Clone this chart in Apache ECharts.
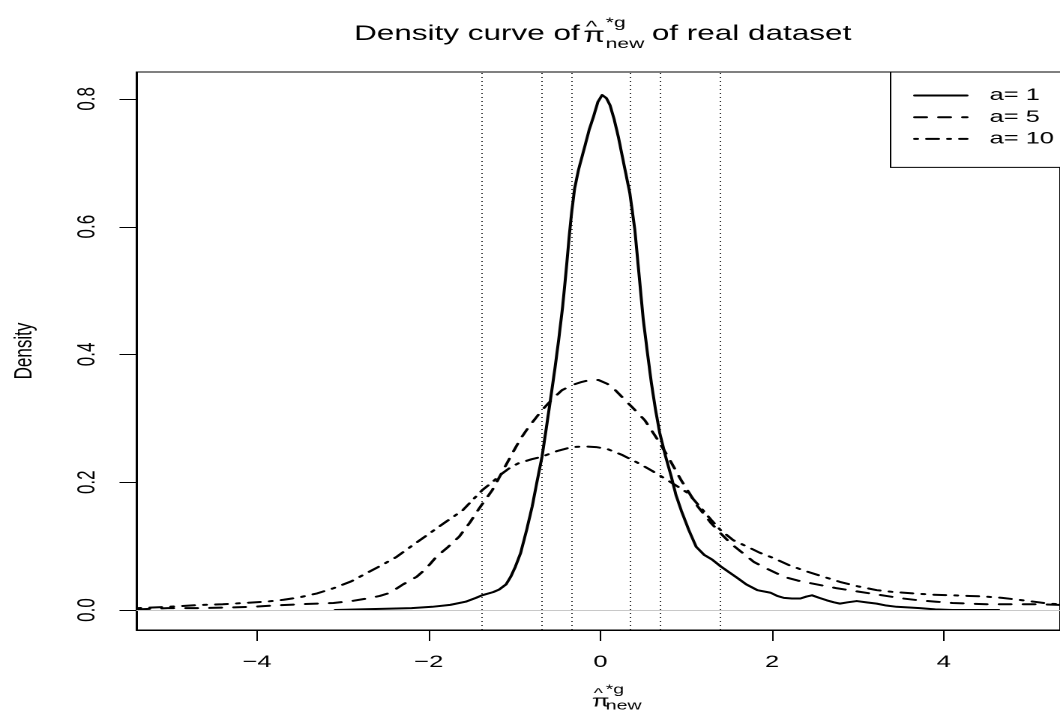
<!DOCTYPE html>
<html>
<head>
<meta charset="utf-8">
<title>Density curve</title>
<script src="https://cdn.jsdelivr.net/npm/echarts@6/dist/echarts.min.js"></script>
<style>
	html, body { margin: 0; padding: 0; background: #fff; overflow: hidden; }
	/* the reference plot is stretched sideways, so the whole chart is drawn narrow and scaled */
	#densityChart { width: 707px; height: 713px; transform: scaleX(1.4993); transform-origin: 0 0; }
</style>
</head>
<body>
<div id="densityChart"></div>
<script>
//a = 1
var a1X = [-3.09, -2.8, -2.5, -2.2, -1.96, -1.75, -1.57, -1.45, -1.38, -1.25, -1.18, -1.10, -1.045, -0.99, -0.93, -0.86, -0.795, -0.74, -0.68, -0.63, -0.582, -0.53, -0.486, -0.44, -0.40, -0.36, -0.332, -0.30, -0.255, -0.177, -0.13, -0.081, -0.03, 0.02, 0.07, 0.112, 0.16, 0.208, 0.27, 0.343, 0.401, 0.45, 0.498, 0.55, 0.594, 0.64, 0.691, 0.76, 0.825, 0.88, 0.941, 1.03, 1.115, 1.211, 1.30, 1.404, 1.50, 1.597, 1.70, 1.829, 1.983, 2.06, 2.137, 2.23, 2.33, 2.40, 2.465, 2.55, 2.64, 2.72, 2.79, 2.88, 2.986, 3.10, 3.218, 3.33, 3.45, 3.6, 3.72, 3.9, 4.1, 4.4, 4.64];
var a1Y = [0.000, 0.001, 0.002, 0.003, 0.005, 0.008, 0.013, 0.019, 0.023, 0.028, 0.032, 0.040, 0.052, 0.068, 0.089, 0.125, 0.162, 0.200, 0.240, 0.285, 0.329, 0.378, 0.423, 0.475, 0.530, 0.590, 0.626, 0.660, 0.689, 0.728, 0.752, 0.772, 0.795, 0.806, 0.801, 0.790, 0.768, 0.741, 0.700, 0.652, 0.595, 0.525, 0.456, 0.400, 0.355, 0.315, 0.277, 0.240, 0.209, 0.180, 0.156, 0.125, 0.099, 0.086, 0.079, 0.068, 0.059, 0.050, 0.040, 0.031, 0.027, 0.022, 0.019, 0.018, 0.018, 0.021, 0.023, 0.019, 0.015, 0.012, 0.010, 0.012, 0.014, 0.012, 0.010, 0.007, 0.005, 0.004, 0.003, 0.001, 0.000, 0.000, 0.000];
//a = 5
var a5X = [-5.39, -5.04, -4.65, -4.3, -4.07, -3.8, -3.495, -3.3, -3.11, -2.9, -2.72, -2.57, -2.45, -2.3, -2.14, -2.03, -1.913, -1.78, -1.644, -1.52, -1.412, -1.258, -1.14, -1.027, -0.93, -0.833, -0.75, -0.68, -0.56, -0.448, -0.33, -0.216, -0.12, -0.023, 0.08, 0.16, 0.247, 0.38, 0.517, 0.65, 0.787, 0.941, 1.134, 1.289, 1.40, 1.52, 1.65, 1.79, 1.95, 2.137, 2.30, 2.446, 2.6, 2.755, 2.95, 3.14, 3.33, 3.527, 3.72, 3.912, 4.1, 4.30, 4.5, 4.68, 4.9, 5.1, 5.35];
var a5Y = [0.001, 0.003, 0.003, 0.004, 0.005, 0.007, 0.009, 0.010, 0.011, 0.014, 0.018, 0.022, 0.027, 0.040, 0.052, 0.065, 0.083, 0.098, 0.115, 0.137, 0.159, 0.188, 0.217, 0.245, 0.268, 0.287, 0.301, 0.313, 0.330, 0.344, 0.352, 0.357, 0.360, 0.360, 0.354, 0.346, 0.334, 0.316, 0.297, 0.270, 0.240, 0.203, 0.162, 0.136, 0.120, 0.104, 0.090, 0.075, 0.064, 0.052, 0.046, 0.042, 0.038, 0.034, 0.030, 0.026, 0.022, 0.018, 0.015, 0.013, 0.011, 0.010, 0.009, 0.009, 0.009, 0.009, 0.008];
//a = 10
var a10X = [-5.39, -5.04, -4.65, -4.4, -4.15, -3.9, -3.69, -3.5, -3.30, -3.11, -2.9, -2.72, -2.55, -2.376, -2.2, -1.99, -1.8, -1.605, -1.49, -1.373, -1.26, -1.142, -1.05, -0.949, -0.80, -0.68, -0.50, -0.332, -0.177, -0.05, 0.08, 0.247, 0.44, 0.60, 0.71, 0.82, 0.903, 1.02, 1.15, 1.29, 1.40, 1.55, 1.713, 1.85, 2.02, 2.2, 2.41, 2.6, 2.79, 3.0, 3.22, 3.43, 3.64, 3.87, 4.1, 4.3, 4.49, 4.68, 4.87, 5.05, 5.22, 5.35];
var a10Y = [0.003, 0.005, 0.008, 0.009, 0.011, 0.013, 0.016, 0.020, 0.026, 0.034, 0.045, 0.058, 0.070, 0.083, 0.100, 0.120, 0.138, 0.156, 0.172, 0.188, 0.200, 0.214, 0.223, 0.230, 0.236, 0.240, 0.249, 0.255, 0.256, 0.255, 0.252, 0.243, 0.230, 0.218, 0.209, 0.200, 0.193, 0.183, 0.163, 0.141, 0.125, 0.109, 0.099, 0.090, 0.081, 0.070, 0.060, 0.052, 0.044, 0.037, 0.031, 0.028, 0.026, 0.024, 0.023, 0.022, 0.021, 0.019, 0.016, 0.013, 0.010, 0.009];
//dotted reference lines
var vLines = [-1.386, -0.693, -0.336, 0.336, 0.693, 1.386];
//ticks
var xTicks = [-4, -2, 0, 2, 4];
var yTicks = [0, 0.2, 0.4, 0.6, 0.8];
var seriesNames = ['a= 1', 'a= 5', 'a= 10'];

var xMin = -5.405, xMax = 5.354;
var yMin = -0.0313, yMax = 0.842;

function pairs(xs, ys) {
	var out = [];
	for (var i = 0; i < xs.length; i++) {
		out.push([xs[i], ys[i]]);
	}
	return out;
}

var font = '"Liberation Sans", Arial, Helvetica, sans-serif';
var lineBase = { color: '#000', width: 2, cap: 'round', join: 'round' };

var markData = vLines.map(function (v) {
	return { xAxis: v, lineStyle: { color: '#000', width: 0.8, type: [1, 3], cap: 'butt' } };
});
markData.push({ yAxis: 0, lineStyle: { color: '#c8c8c8', width: 1, type: 'solid' } });

var titleTexts = [
	{ type: 'text', x: 386.7, y: 34, style: { text: 'Density curve of', font: '21px ' + font, fill: '#000', textAlign: 'right', textVerticalAlign: 'middle' } },
	{ type: 'text', x: 389, y: 36, style: { text: 'π', font: '21px ' + font, fill: '#000', textAlign: 'left', textVerticalAlign: 'middle' } },
	{ type: 'text', x: 394.5, y: 27, style: { text: '^', font: '16px ' + font, fill: '#000', textAlign: 'center', textVerticalAlign: 'middle' } },
	{ type: 'text', x: 404, y: 23, style: { text: '*g', font: '14px ' + font, fill: '#000', textAlign: 'left', textVerticalAlign: 'middle' } },
	{ type: 'text', x: 404, y: 44, style: { text: 'new', font: '14px ' + font, fill: '#000', textAlign: 'left', textVerticalAlign: 'middle' } },
	{ type: 'text', x: 434.7, y: 34, style: { text: 'of real dataset', font: '21px ' + font, fill: '#000', textAlign: 'left', textVerticalAlign: 'middle' } },
	//x axis title
	{ type: 'text', x: 394.7, y: 702, style: { text: 'π', font: '17px ' + font, fill: '#000', textAlign: 'left', textVerticalAlign: 'middle' } },
	{ type: 'text', x: 399, y: 694, style: { text: '^', font: '13px ' + font, fill: '#000', textAlign: 'center', textVerticalAlign: 'middle' } },
	{ type: 'text', x: 404, y: 690, style: { text: '*g', font: '13px ' + font, fill: '#000', textAlign: 'left', textVerticalAlign: 'middle' } },
	{ type: 'text', x: 404, y: 706, style: { text: 'new', font: '13px ' + font, fill: '#000', textAlign: 'left', textVerticalAlign: 'middle' } }
];

var chart = echarts.init(document.getElementById('densityChart'), null, { devicePixelRatio: 2 });

chart.setOption({
	animation: false,
	color: ['#000', '#000', '#000'],
	textStyle: { fontFamily: font },
	grid: {
		left: 90,
		right: -3,
		top: 72,
		bottom: 83,
		show: true,
		borderColor: '#000',
		borderWidth: 1
	},
	legend: {
		data: seriesNames,
		orient: 'vertical',
		left: 594,
		top: 72,
		padding: [15, 90, 20, 15],
		itemWidth: 35,
		itemHeight: 14,
		itemGap: 4.7,
		borderColor: '#000',
		borderWidth: 1,
		backgroundColor: '#fff',
		itemStyle: { opacity: 0 },
		textStyle: { fontSize: 17, color: '#000', fontFamily: font, lineHeight: 14, padding: [0, 0, 0, 10] }
	},
	graphic: titleTexts,
	xAxis: {
		type: 'value',
		min: xMin,
		max: xMax,
		axisLine: { show: true, onZero: false, lineStyle: { color: '#000', width: 1 } },
		splitLine: { show: false },
		axisTick: { show: false },
		axisLabel: {
			customValues: xTicks,
			margin: 24,
			fontSize: 17,
			color: '#000',
			fontFamily: font,
			formatter: function (v) { return v < 0 ? '\u2212' + Math.abs(v) : String(v); }
		}
	},
	yAxis: {
		type: 'value',
		min: yMin,
		max: yMax,
		name: 'Density',
		nameLocation: 'middle',
		nameRotate: 90,
		nameGap: 66,
		nameTextStyle: { fontSize: 17, color: '#000', fontFamily: font },
		axisLine: { show: true, onZero: false, lineStyle: { color: '#000', width: 1 } },
		splitLine: { show: false },
		axisTick: { show: false },
		axisLabel: {
			customValues: yTicks,
			rotate: 90,
			margin: 24,
			fontSize: 17,
			color: '#000',
			fontFamily: font,
			formatter: function (v) { return v.toFixed(1); }
		}
	},
	series: [
		{
			name: seriesNames[0],
			type: 'line',
			symbol: 'none',
			showSymbol: false,
			clip: true,
			z: 4,
			itemStyle: { color: '#000' },
			lineStyle: Object.assign({}, lineBase, { type: 'solid' }),
			data: pairs(a1X, a1Y),
			markLine: {
				silent: true,
				symbol: ['none', 'none'],
				label: { show: false },
				data: markData
			}
		},
		{
			name: seriesNames[1],
			type: 'line',
			symbol: 'none',
			showSymbol: false,
			clip: true,
			z: 3,
			itemStyle: { color: '#000' },
			lineStyle: Object.assign({}, lineBase, { type: [8, 8] }),
			data: pairs(a5X, a5Y)
		},
		{
			name: seriesNames[2],
			type: 'line',
			symbol: 'none',
			showSymbol: false,
			clip: true,
			z: 3,
			itemStyle: { color: '#000' },
			lineStyle: Object.assign({}, lineBase, { type: [2, 6, 8, 6] }),
			data: pairs(a10X, a10Y)
		}
	]
});

//tick marks, placed through the axes' own scales
var tickMarks = [];
var leftPx = chart.convertToPixel({ xAxisIndex: 0 }, xMin);
var bottomPx = chart.convertToPixel({ yAxisIndex: 0 }, yMin);
xTicks.forEach(function (v) {
	var px = Math.round(chart.convertToPixel({ xAxisIndex: 0 }, v)) + 0.5;
	tickMarks.push({ type: 'line', silent: true, shape: { x1: px, y1: bottomPx, x2: px, y2: bottomPx + 11 }, style: { stroke: '#000', lineWidth: 1 } });
});
yTicks.forEach(function (v) {
	var py = Math.round(chart.convertToPixel({ yAxisIndex: 0 }, v)) + 0.5;
	tickMarks.push({ type: 'line', silent: true, shape: { x1: leftPx, y1: py, x2: leftPx - 11.3, y2: py }, style: { stroke: '#000', lineWidth: 1 } });
});
chart.setOption({ graphic: titleTexts.concat(tickMarks) });
</script>
</body>
</html>
